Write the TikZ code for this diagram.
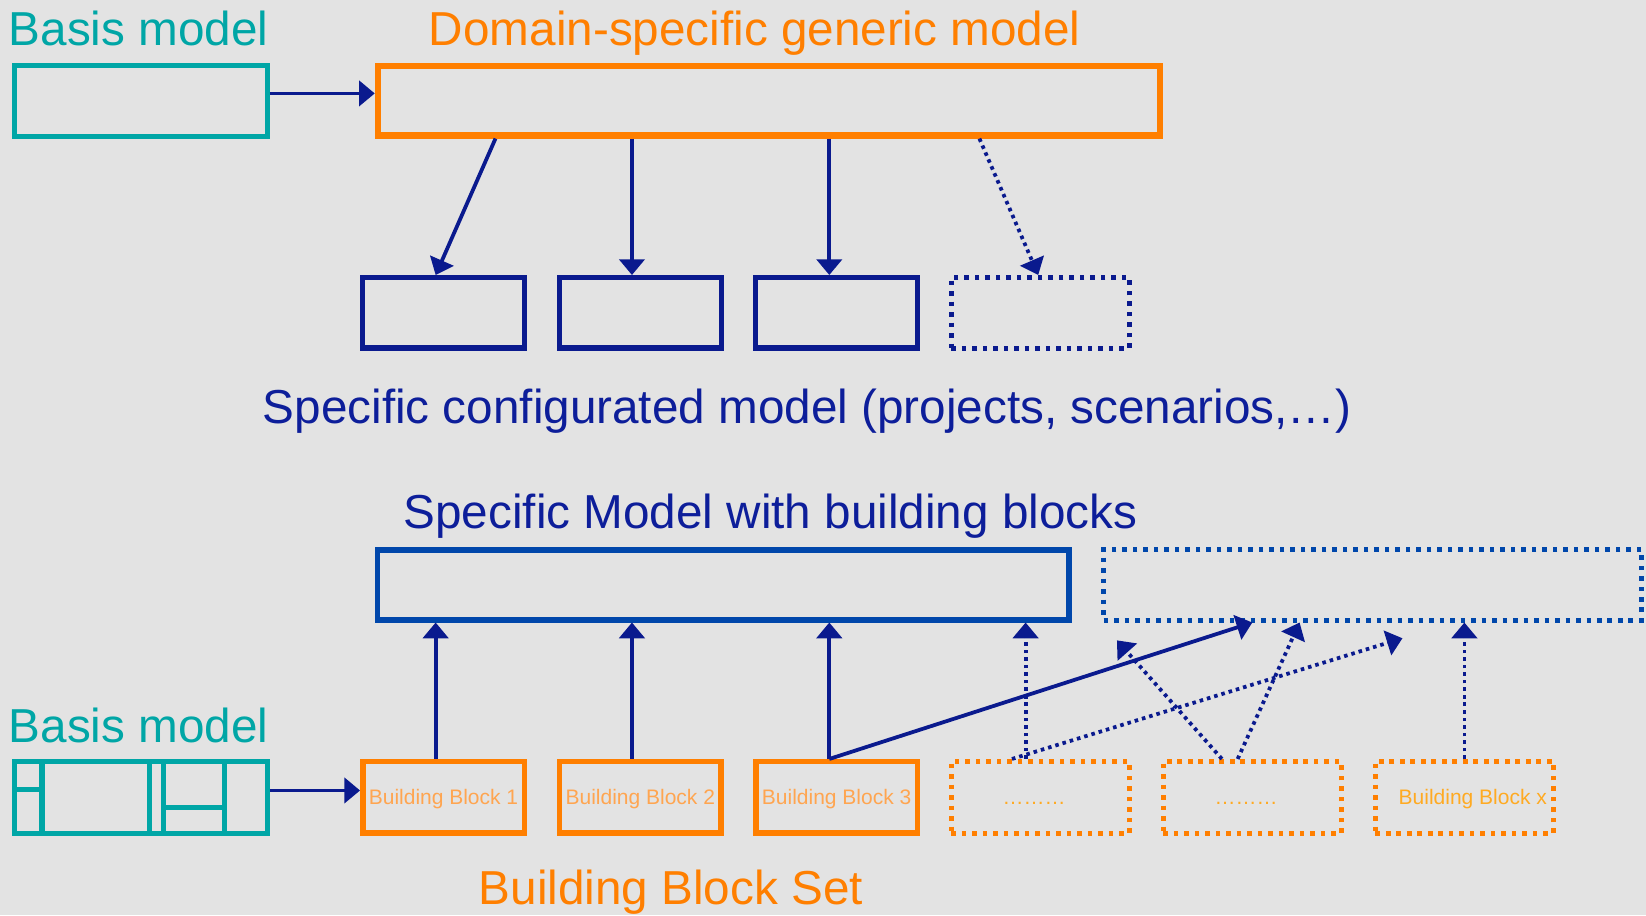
\documentclass[tikz,border=0pt]{standalone}
\usepackage{fontspec}
\setmainfont{Liberation Sans}
\usetikzlibrary{arrows.meta}
\definecolor{bgc}{HTML}{E3E3E3}
\definecolor{tealc}{HTML}{00A6A6}
\definecolor{orangec}{HTML}{FF7F00}
\definecolor{navyc}{HTML}{0A1A8E}
\definecolor{navytext}{HTML}{0D1E9A}
\definecolor{bluec}{HTML}{0047AB}
\definecolor{bbtext}{HTML}{FFA550}
\definecolor{bbtextx}{HTML}{FFAA22}
\begin{document}
\begin{tikzpicture}[x=0.5pt,y=-0.5pt,
  big/.style={font=\fontsize{22.7}{27}\selectfont, inner sep=0pt},
  small/.style={font=\fontsize{10}{12}\selectfont, inner sep=0pt, text height=7.2pt, text depth=0pt},
  frame/.style={draw, inner sep=0pt},
  dotbox/.style={frame, dash pattern=on 2.2pt off 2.8pt},
  arr/.style={draw=navyc, line width=1.8pt, -{Triangle[length=7.5pt,width=12pt]}},
  dotarr/.style={arr, dash pattern=on 1.7pt off 1.9pt}]

% canvas
\fill[bgc] (0,0) rectangle (1568,872);
\useasboundingbox (0,0) rectangle (1568,872);

% ---------- upper part: generic model and its configurations ----------
\node[big, text=tealc, anchor=base west] (bmtitle) at (8,43) {Basis model};
\node[big, text=orangec, anchor=base] (domtitle) at (719,43) {Domain-specific generic model};

\node[frame, draw=tealc, line width=2.4pt, minimum width=120.6pt, minimum height=33.6pt] (basis) at (134,96) {};
\node[frame, draw=orangec, line width=2.9pt, minimum width=372.6pt, minimum height=33.1pt] (dom) at (732.5,96) {};

\node[frame, draw=navyc, line width=2.5pt, minimum width=77pt, minimum height=33.5pt] (c1) at (422.5,298) {};
\node[frame, draw=navyc, line width=2.5pt, minimum width=77pt, minimum height=33.5pt] (c2) at (610,298) {};
\node[frame, draw=navyc, line width=2.5pt, minimum width=77pt, minimum height=33.5pt] (c3) at (797,298) {};
\node[dotbox, draw=navyc, line width=2.2pt, minimum width=84.8pt, minimum height=33.8pt] (c4) at (991,298) {};

\node[big, text=navytext, anchor=base] (conftitle) at (769,403) {Specific configurated model (projects, scenarios,\dots)};

% attachment points of the upper connectors
\coordinate (u1) at (472,0);
\coordinate (v1) at (415,0);
\coordinate (u2) at (602,0);
\coordinate (u3) at (790,0);
\coordinate (u4) at (933,0);
\coordinate (v4) at (989,0);

\draw[arr] ([yshift=3.5pt]basis.east) -- ([yshift=3.5pt]dom.west);
\draw[arr] (dom.south -| u1) -- (c1.north -| v1);
\draw[arr] (dom.south -| u2) -- (c2.north -| u2);
\draw[arr] (dom.south -| u3) -- (c3.north -| u3);
\draw[dotarr] (dom.south -| u4) -- (c4.north -| v4);

% ---------- lower part: model built from building blocks ----------
\node[big, text=navytext, anchor=base] (spectitle) at (734,503) {Specific Model with building blocks};

\node[frame, draw=bluec, line width=2.7pt, minimum width=329.3pt, minimum height=33.3pt] (spec) at (689,557) {};
\node[dotbox, draw=bluec, line width=2.3pt, minimum width=256.2pt, minimum height=33.7pt] (ext) at (1307.5,557) {};

\node[big, text=tealc, anchor=base west] (bm2title) at (8,707) {Basis model};

% basis model split into compartments
\node[frame, draw=tealc, line width=2.4pt, minimum width=120.6pt, minimum height=34.1pt] (basis2) at (134,759.5) {};
\draw[tealc, line width=2.4pt]
  (40,725) -- (40,794)
  (142,725) -- (142,794)
  (156,725) -- (156,794)
  (214,725) -- (214,794)
  (13,752.5) -- (40,752.5)
  (156,769.5) -- (214,769.5);

\node[frame, draw=orangec, line width=2.6pt, minimum width=76.9pt, minimum height=33.9pt, small, text=bbtext] (b1) at (422.5,759.5) {Building Block 1};
\node[frame, draw=orangec, line width=2.6pt, minimum width=76.9pt, minimum height=33.9pt, small, text=bbtext] (b2) at (610,759.5) {Building Block 2};
\node[frame, draw=orangec, line width=2.6pt, minimum width=76.9pt, minimum height=33.9pt, small, text=bbtext] (b3) at (797,759.5) {Building Block 3};
\node[dotbox, draw=orangec, line width=2.2pt, minimum width=84.8pt, minimum height=34.3pt] (b4) at (991,759.5) {};
\node[dotbox, draw=orangec, line width=2.2pt, minimum width=84.8pt, minimum height=34.3pt] (b5) at (1193,759.5) {};
\node[dotbox, draw=orangec, line width=2.2pt, minimum width=84.8pt, minimum height=34.3pt] (b6) at (1395,759.5) {};
\node[small, text=bbtextx] (b4t) at (985,759.5) {\dots\dots\dots};
\node[small, text=bbtextx] (b5t) at (1187,759.5) {\dots\dots\dots};
\node[small, text=bbtextx] (b6t) at (1403,759.5) {Building Block x};

\node[big, text=orangec, anchor=base] (settitle) at (639,862) {Building Block Set};

% attachment points of the lower connectors
\coordinate (w1) at (415,0);
\coordinate (w2) at (602,0);
\coordinate (w3) at (790,0);
\coordinate (w4) at (977,0);
\coordinate (w4b) at (964,0);
\coordinate (w5a) at (1164,0);
\coordinate (w5b) at (1179,0);
\coordinate (w6) at (1395,0);
\coordinate (e1) at (1193,0);
\coordinate (e2) at (1238,0);
\coordinate (freeA) at (1336,608);
\coordinate (freeB) at (1064,610);

\draw[arr] ([yshift=3.25pt]basis2.east) -- ([yshift=3.25pt]b1.west);
\draw[arr] (b1.north -| w1) -- (spec.south -| w1);
\draw[arr] (b2.north -| w2) -- (spec.south -| w2);
\draw[arr] (b3.north -| w3) -- (spec.south -| w3);
\draw[arr] (b3.north -| w3) -- (ext.south -| e1);
\draw[dotarr] (b4.north -| w4) -- (spec.south -| w4);
\draw[dotarr] (b4.north -| w4b) -- (freeA);
\draw[dotarr] (b5.north -| w5a) -- (freeB);
\draw[dotarr] (b5.north -| w5b) -- (ext.south -| e2);
\draw[dotarr] (b6.north -| w6) -- (ext.south -| w6);
\end{tikzpicture}
\end{document}
